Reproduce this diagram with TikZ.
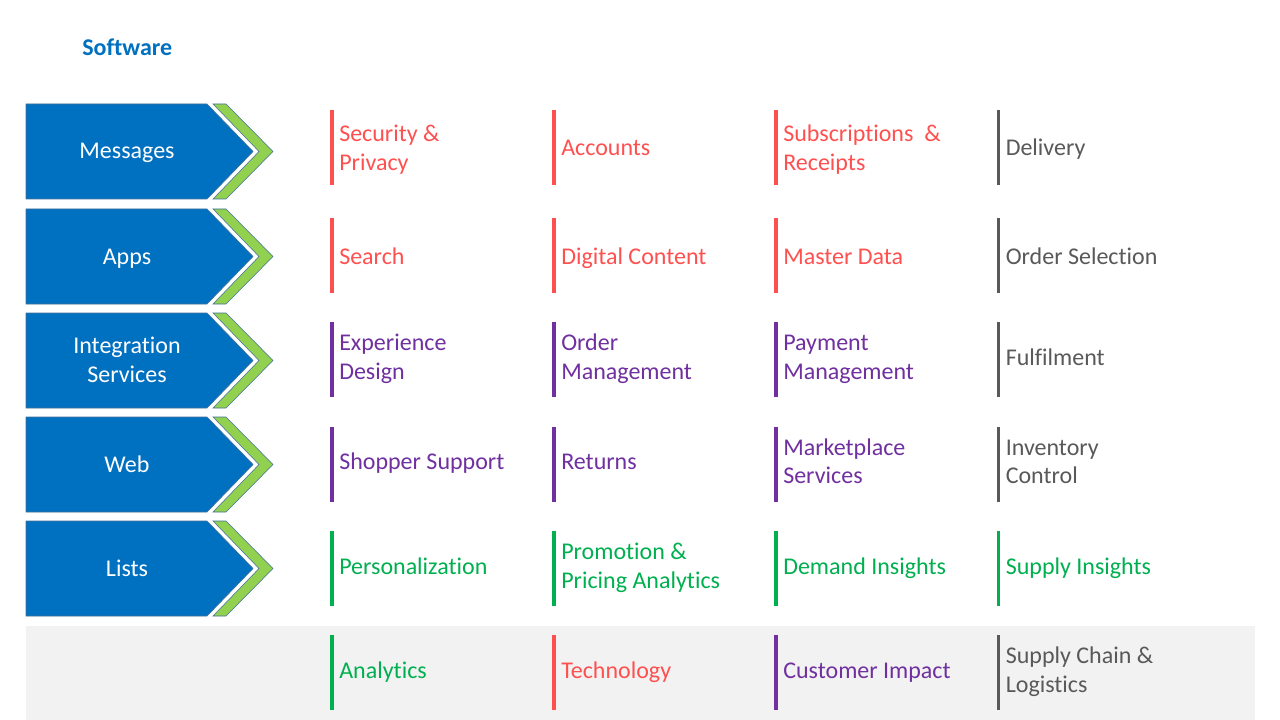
\documentclass[tikz,border=0pt]{standalone}
\usepackage{fontspec}
\setmainfont{Carlito}[Ligatures=NoCommon]
\definecolor{myblue}{HTML}{0070C0}
\definecolor{myedge}{HTML}{41719C}
\definecolor{mylime}{HTML}{92D050}
\definecolor{myred}{HTML}{FF5050}
\definecolor{mygray}{HTML}{595959}
\definecolor{mypurple}{HTML}{7030A0}
\definecolor{mygreen}{HTML}{00B050}
\definecolor{myband}{HTML}{F2F2F2}
\tikzset{
  bar/.style={line width=2.6pt},
  cell/.style={inner sep=0pt, align=left, font=\fontsize{18}{21.4}\selectfont},
  bluearrow/.style={fill=myblue, draw=myedge, line width=0.5pt},
  chev/.style={fill=mylime, draw=myedge, line width=0.4pt},
  atext/.style={inner sep=0pt, align=center, text=white, font=\fontsize{18}{21.4}\selectfont}
}
% name, bar x, bar top, text centre, colour, lines, text
\newcommand{\mycell}[7]{%
  \draw[bar, draw=#5] (#2,#3) -- (#2,#3+75);
  \ifnum#6=1
    \node[cell, text=#5, anchor=base west] (#1) at (#2+7,#4+8.5) {#7};
  \else
    \node[cell, text=#5, anchor=base west] (#1) at (#2+7,#4+22.75) {#7};
  \fi}
% name, top, lines, text
\newcommand{\myarrow}[4]{%
  \draw[bluearrow] (26,#2) -- (207,#2) -- (253,#2+47.5) -- (207,#2+95) -- (26,#2+95) -- cycle;
  \draw[chev] (213,#2) -- (226,#2) -- (273,#2+47.5) -- (226,#2+95) -- (213,#2+95) -- (259,#2+47.5) -- cycle;
  \ifnum#3=1
    \node[atext, anchor=base] (#1) at (127,#2+55) {#4};
  \else
    \node[atext, anchor=base] (#1) at (127,#2+69.25) {#4};
  \fi}
\begin{document}
\begin{tikzpicture}[x=0.75pt, y=-0.75pt]
\useasboundingbox (0,0) rectangle (1280,720);
\fill[white] (0,0) rectangle (1280,720);
\fill[myband] (26,626) rectangle (1255,720);
\node[anchor=base west, inner sep=0pt, text=myblue, font=\bfseries\fontsize{18}{21}\selectfont] (title) at (82,55.5) {Software};
% arrows
\myarrow{a1}{104}{1}{Messages}
\myarrow{a2}{209}{1}{Apps}
\myarrow{a3}{313}{2}{Integration\\Services}
\myarrow{a4}{417}{1}{Web}
\myarrow{a5}{521}{1}{Lists}
% row 1
\mycell{c11}{332}{110}{147.5}{myred}{2}{Security \&\\Privacy}
\mycell{c12}{554}{110}{147.5}{myred}{1}{Accounts}
\mycell{c13}{776}{110}{147.5}{myred}{2}{Subscriptions\ \ \&\\Receipts}
\mycell{c14}{998.5}{110}{147.5}{mygray}{1}{Delivery}
% row 2
\mycell{c21}{332}{218}{255.5}{myred}{1}{Search}
\mycell{c22}{554}{218}{255.5}{myred}{1}{Digital Content}
\mycell{c23}{776}{218}{255.5}{myred}{1}{Master Data}
\mycell{c24}{998.5}{218}{255.5}{mygray}{1}{Order Selection}
% row 3
\mycell{c31}{332}{322}{356.5}{mypurple}{2}{Experience\\Design}
\mycell{c32}{554}{322}{356.5}{mypurple}{2}{Order\\Management}
\mycell{c33}{776}{322}{356.5}{mypurple}{2}{Payment\\Management}
\mycell{c34}{998.5}{322}{356.5}{mygray}{1}{Fulfilment}
% row 4
\mycell{c41}{332}{427}{461}{mypurple}{1}{Shopper Support}
\mycell{c42}{554}{427}{461}{mypurple}{1}{Returns}
\mycell{c43}{776}{427}{461}{mypurple}{2}{Marketplace\\Services}
\mycell{c44}{998.5}{427}{461}{mygray}{2}{Inventory\\Control}
% row 5
\mycell{c51}{332}{531}{565.5}{mygreen}{1}{Personalization}
\mycell{c52}{554}{531}{565.5}{mygreen}{2}{Promotion \&\\Pricing Analytics}
\mycell{c53}{776}{531}{565.5}{mygreen}{1}{Demand Insights}
\mycell{c54}{998.5}{531}{565.5}{mygreen}{1}{Supply Insights}
% band
\mycell{c61}{332}{635}{669.5}{mygreen}{1}{Analytics}
\mycell{c62}{554}{635}{669.5}{myred}{1}{Technology}
\mycell{c63}{776}{635}{669.5}{mypurple}{1}{Customer Impact}
\mycell{c64}{998.5}{635}{669.5}{mygray}{2}{Supply Chain \&\\Logistics}
\end{tikzpicture}
\end{document}
